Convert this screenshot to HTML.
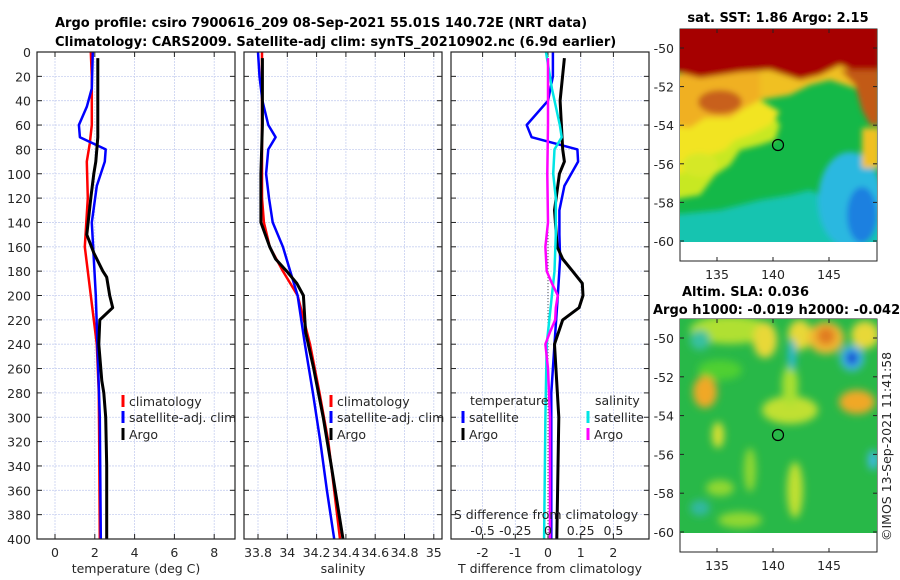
<!DOCTYPE html>
<html><head><meta charset="utf-8"><style>
html,body{margin:0;padding:0;background:#fff;}
svg{display:block;font-family:"DejaVu Sans","Liberation Sans",sans-serif;}
.tk{font-size:12.5px;fill:#262626;}
.ttl{font-size:13px;font-weight:bold;fill:#000;}
</style></head><body>
<svg id="fig" width="900" height="580" viewBox="0 0 900 580" xmlns="http://www.w3.org/2000/svg">
<defs>
<filter id="bl" x="-20%" y="-20%" width="140%" height="140%"><feGaussianBlur stdDeviation="4"/></filter>
<filter id="bl2" x="-20%" y="-20%" width="140%" height="140%"><feGaussianBlur stdDeviation="3"/></filter>
<clipPath id="c1"><rect x="680" y="29" width="197" height="213"/></clipPath>
<clipPath id="c2"><rect x="680" y="319" width="197" height="214"/></clipPath>
</defs>
<text class="ttl" x="55" y="27">Argo profile: csiro 7900616_209 08-Sep-2021 55.01S 140.72E (NRT data)</text>
<text class="ttl" x="55" y="46">Climatology: CARS2009. Satellite-adj clim: synTS_20210902.nc (6.9d earlier)</text>

<!-- SST map -->
<g>
<text class="ttl" x="778" y="22" text-anchor="middle">sat. SST: 1.86 Argo: 2.15</text>
<rect x="680" y="29" width="197" height="232" fill="#fff" stroke="#222"/>
<g clip-path="url(#c1)">
<rect x="680" y="29" width="197" height="213" fill="#14b848"/>
<g filter="url(#bl2)">
<rect x="670" y="222" width="220" height="30" fill="#14c8c0"/>
<polygon points="670,215 720,210 760,200 790,195 810,190 830,200 880,200 880,260 670,260" fill="#12c4b0"/>
<ellipse cx="850" cy="200" rx="32" ry="48" fill="#2ab8e0"/>
<ellipse cx="862" cy="215" rx="15" ry="28" fill="#1f80e0"/>
<polygon points="670,200 700,195 715,175 730,165 740,150 760,145 775,140 780,125 770,110 740,100 700,110 670,120" fill="#c8e820"/>
<polygon points="670,175 695,170 710,155 725,150 735,140 750,135 770,125 780,112 760,100 720,95 690,100 670,100" fill="#f2e420"/>
<ellipse cx="700" cy="165" rx="18" ry="12" fill="#d6e828"/>
<polygon points="670,125 690,128 705,118 730,118 745,108 760,100 785,90 800,85 790,75 750,70 700,72 670,75" fill="#f0b020"/>
<polygon points="760,100 790,95 810,85 830,80 860,90 870,110 880,120 880,60 760,60" fill="#f0c020"/>
<ellipse cx="720" cy="102" rx="22" ry="12" fill="#c8601a"/>
<polygon points="670,70 700,78 740,72 770,70 800,80 820,75 840,65 860,75 870,100 875,125 880,125 880,20 670,20" fill="#a60000"/>
<polygon points="840,70 855,85 862,110 870,125 880,125 880,70" fill="#c25a14"/>
<rect x="862" y="128" width="18" height="40" fill="#f0c020"/>
</g>
</g>
<circle cx="778" cy="145" r="5.5" fill="none" stroke="#000" stroke-width="1.2"/>
</g>

<!-- SLA map -->
<g>
<text class="ttl" x="682" y="296">Altim. SLA: 0.036</text>
<text class="ttl" x="653" y="314">Argo h1000: -0.019 h2000: -0.042</text>
<rect x="680" y="319" width="197" height="233" fill="#fff" stroke="#222"/>
<g clip-path="url(#c2)">
<rect x="680" y="319" width="197" height="214" fill="#28b848"/>
<g filter="url(#bl)">
<ellipse cx="730" cy="330" rx="40" ry="14" fill="#b0e030"/>
<ellipse cx="700" cy="340" rx="10" ry="10" fill="#38c0a0"/>
<ellipse cx="720" cy="370" rx="22" ry="10" fill="#50d030"/>
<ellipse cx="790" cy="410" rx="28" ry="14" fill="#c0e030"/>
<ellipse cx="790" cy="385" rx="8" ry="20" fill="#a8e030"/>
<ellipse cx="765" cy="340" rx="12" ry="18" fill="#e8d838"/>
<ellipse cx="800" cy="335" rx="12" ry="15" fill="#e8d838"/>
<ellipse cx="826" cy="338" rx="18" ry="16" fill="#f0b830"/>
<ellipse cx="826" cy="336" rx="9" ry="9" fill="#e07a20"/>
<ellipse cx="865" cy="335" rx="14" ry="14" fill="#e8d838"/>
<ellipse cx="792" cy="355" rx="4" ry="16" fill="#2ab8d8"/>
<ellipse cx="852" cy="358" rx="12" ry="13" fill="#40b8e8"/>
<ellipse cx="852" cy="358" rx="6" ry="7" fill="#1040d0"/>
<ellipse cx="705" cy="392" rx="12" ry="16" fill="#f0a828"/>
<ellipse cx="857" cy="402" rx="18" ry="12" fill="#f0a828"/>
<ellipse cx="718" cy="435" rx="6" ry="13" fill="#d8e030"/>
<ellipse cx="795" cy="490" rx="8" ry="28" fill="#c0e030"/>
<ellipse cx="750" cy="470" rx="6" ry="22" fill="#90d830"/>
<ellipse cx="720" cy="488" rx="14" ry="8" fill="#90d830"/>
<ellipse cx="700" cy="508" rx="10" ry="8" fill="#30b8a0"/>
<ellipse cx="740" cy="520" rx="22" ry="8" fill="#90d830"/>
<ellipse cx="873" cy="460" rx="5" ry="10" fill="#40b8e8"/>
</g>
</g>
<circle cx="778" cy="435" r="5.5" fill="none" stroke="#000" stroke-width="1.2"/>
<text class="tk" transform="translate(891,541) rotate(-90)">©IMOS 13-Sep-2021 11:41:58</text>
</g>
<g id="mapaxes"></g>
<g id="plots"></g>
</svg>
<script>
// ---------- data ----------
const depthTicks = [0,20,40,60,80,100,120,140,160,180,200,220,240,260,280,300,320,340,360,380,400];
const tTicks = [0,2,4,6,8];
const sTicks = [33.8,34,34.2,34.4,34.6,34.8,35];
const sTickLabels = ["33.8","34","34.2","34.4","34.6","34.8","35"];
const dTTicks = [-2,-1,0,1,2];
const dSTicks = [-0.5,-0.25,0,0.25,0.5];

const climTDepth = [0,20,60,75,90,120,160,200,240,280,320,400];
const climT      = [1.8,1.85,1.85,1.75,1.6,1.65,1.5,1.8,2.1,2.2,2.22,2.25];
const satTDepth  = [0,30,45,60,70,80,90,110,140,200,300,400];
const satT       = [1.9,1.85,1.6,1.2,1.25,2.55,2.5,2.1,1.85,2.05,2.25,2.3];
const argoTDepth = [5,70,90,100,120,150,165,180,185,200,210,220,240,270,280,300,340,400];
const argoT      = [2.15,2.15,2.05,1.95,1.8,1.6,1.95,2.4,2.6,2.75,2.9,2.25,2.2,2.35,2.45,2.55,2.6,2.6];

const climSDepth = [0,120,140,160,180,200,240,280,320,360,400];
const climS      = [33.827,33.827,33.84,33.88,33.97,34.07,34.155,34.22,34.28,34.32,34.36];
const satSDepth  = [0,20,40,60,70,80,100,120,140,160,180,200,240,280,320,360,400];
const satS       = [33.8,33.81,33.83,33.87,33.92,33.87,33.855,33.875,33.9,33.97,34.02,34.07,34.12,34.175,34.225,34.27,34.32];
const argoSDepth = [5,60,100,140,145,160,170,180,190,200,230,260,300,340,400];
const argoS      = [33.83,33.83,33.82,33.82,33.835,33.88,33.92,33.995,34.065,34.11,34.125,34.18,34.245,34.3,34.38];

const dTSatDepth = [0,20,40,60,70,80,90,110,130,150,170,200,240,280,400];
const dTSat      = [0.15,0.15,0,-0.65,-0.5,0.9,0.92,0.5,0.35,0.35,0.37,0.3,0.2,0.1,0.1];
const dTArgoDepth= [5,40,80,90,100,130,160,170,180,190,200,210,220,240,300,400];
const dTArgo     = [0.5,0.37,0.45,0.5,0.35,0.2,0.28,0.45,0.75,1.05,1.07,0.95,0.45,0.2,0.33,0.27];
const dSSatDepth = [0,30,60,70,80,100,120,150,180,200,240,300,400];
const dSSat      = [-0.015,0.03,0.09,0.105,0.05,0.04,0.06,0.06,0.05,0.03,-0.01,-0.02,-0.03];
const dSArgoDepth= [5,60,100,140,160,180,190,200,210,220,230,240,260,300,400];
const dSArgo     = [0,0,-0.005,0,-0.02,-0.01,0.03,0.075,0.06,0.055,0.015,-0.02,0,0.015,0.015];

const mapLatTicks = [-50,-52,-54,-56,-58,-60];
const mapLonTicks = [135,140,145];

// ---------- helpers ----------
const NS = "http://www.w3.org/2000/svg";
const plots = document.getElementById('plots');
const mapaxes = document.getElementById('mapaxes');
function mk(tag, attrs, parent){ const e=document.createElementNS(NS,tag); for(const k in attrs) e.setAttribute(k,attrs[k]); (parent||plots).appendChild(e); return e; }
const Y0=52, Y1=539;
const yD = d => Y0 + d*(Y1-Y0)/400;

function panel(name, x0, x1, xs, xticks, xlabels, xtitle){
  const g = mk('g',{});
  
  
  mk('rect',{x:x0,y:Y0,width:x1-x0,height:Y1-Y0,fill:'#fff'},g);
  xticks.forEach(v=>{ mk('line',{x1:xs(v),x2:xs(v),y1:Y0,y2:Y1,stroke:'#c8d0f0','stroke-width':0.8,'stroke-dasharray':'2,1'},g); });
  depthTicks.forEach(d=>{ mk('line',{x1:x0,x2:x1,y1:yD(d),y2:yD(d),stroke:'#c8d0f0','stroke-width':0.8,'stroke-dasharray':'2,1'},g); });
  depthTicks.forEach(d=>{ mk('line',{x1:x0,x2:x0+5,y1:yD(d),y2:yD(d),stroke:'#222'},g); mk('line',{x1:x1-5,x2:x1,y1:yD(d),y2:yD(d),stroke:'#222'},g); });
  xticks.forEach((v,i)=>{ mk('line',{x1:xs(v),x2:xs(v),y1:Y1-5,y2:Y1,stroke:'#222'},g); mk('line',{x1:xs(v),x2:xs(v),y1:Y0,y2:Y0+5,stroke:'#222'},g);
    const t=mk('text',{x:xs(v),y:Y1+18,'text-anchor':'middle',class:'tk'},g); t.textContent=xlabels[i];
      });
  const tt=mk('text',{x:(x0+x1)/2,y:Y1+34,'text-anchor':'middle',class:'tk'},g); tt.textContent=xtitle;
   
  return g;
}
function series(g, name, depths, vals, xs, color, w){
  const pts = depths.map((d,i)=> xs(vals[i]).toFixed(1)+','+yD(d).toFixed(1)).join(' ');
  const p = mk('polyline',{points:pts,fill:'none',stroke:color,'stroke-width':w,'stroke-linejoin':'round'},g);
  
  
}
function frame(g,x0,x1){ mk('rect',{x:x0,y:Y0,width:x1-x0,height:Y1-Y0,fill:'none',stroke:'#222','stroke-width':1.2},g); }
function legend(g, x, y, label, color, name){
  mk('rect',{x:x-1.5,y:y-6,width:3,height:12,fill:color},g);
  const t=mk('text',{x:x+6,y:y+5,class:'tk'},g); t.textContent=label;
   
}

// y tick labels (panel 1)
depthTicks.forEach(d=>{ const t=mk('text',{x:31,y:yD(d)+5,'text-anchor':'end',class:'tk'}); t.textContent=d;
    });

// Panel 1 temperature
const xT = v => 55 + v*19.9;
const g1 = panel('temperature-panel',37,235,xT,tTicks,tTicks.map(String),'temperature (deg C)');
series(g1,'temp-climatology-line',climTDepth,climT,xT,'#ff0000',2.5);
series(g1,'temp-satellite-line',satTDepth,satT,xT,'#0000ff',2.5);
series(g1,'temp-argo-line',argoTDepth,argoT,xT,'#000',3);
frame(g1,37,235);
legend(g1,123,401,'climatology','#ff0000','legend-climatology');
legend(g1,123,417,'satellite-adj. clim','#0000ff','legend-satellite-adj');
legend(g1,123,434,'Argo','#000','legend-argo');

// Panel 2 salinity
const xS = v => 258 + (v-33.8)*146.5;
const g2 = panel('salinity-panel',244,442,xS,sTicks,sTickLabels,'salinity');
series(g2,'sal-climatology-line',climSDepth,climS,xS,'#ff0000',2.5);
series(g2,'sal-satellite-line',satSDepth,satS,xS,'#0000ff',2.5);
series(g2,'sal-argo-line',argoSDepth,argoS,xS,'#000',3);
frame(g2,244,442);
legend(g2,331,401,'climatology','#ff0000','legend-s-climatology');
legend(g2,331,417,'satellite-adj. clim','#0000ff','legend-s-satellite-adj');
legend(g2,331,434,'Argo','#000','legend-s-argo');

// Panel 3 differences
const xDT = v => 548 + v*32.7;
const xDS = v => 548 + v*130.8;
const g3 = panel('difference-panel',451,649,xDT,dTTicks,dTTicks.map(String),'T difference from climatology');
mk('line',{x1:xDT(0),x2:xDT(0),y1:Y0,y2:Y1,stroke:'#555','stroke-width':1,'stroke-dasharray':'1,2'},g3);
series(g3,'dt-satellite-line',dTSatDepth,dTSat,xDT,'#0000ff',2.5);
series(g3,'dt-argo-line',dTArgoDepth,dTArgo,xDT,'#000',3);
series(g3,'ds-satellite-line',dSSatDepth,dSSat,xDS,'#00e5e5',2.5);
series(g3,'ds-argo-line',dSArgoDepth,dSArgo,xDS,'#ff00ff',2.5);
frame(g3,451,649);
dSTicks.forEach(v=>{ const t=mk('text',{x:xDS(v),y:535,'text-anchor':'middle',class:'tk'},g3); t.textContent=String(v);
    });
{ const t=mk('text',{x:546,y:519,'text-anchor':'middle',class:'tk'},g3); t.textContent='S difference from climatology';
    }
{ const t=mk('text',{x:470,y:405,class:'tk'},g3); t.textContent='temperature';
    }
{ const t=mk('text',{x:595,y:405,class:'tk'},g3); t.textContent='salinity';
    }
legend(g3,463,417,'satellite','#0000ff','legend-dt-satellite');
legend(g3,463,434,'Argo','#000','legend-dt-argo');
legend(g3,588,417,'satellite','#00e5e5','legend-ds-satellite');
legend(g3,588,434,'Argo','#ff00ff','legend-ds-argo');

// Map axes
function mapAxes(name, top, latY0, latScale, bottom){
  const lonX = v => 773 + (v-140)*11.2;
  mapLatTicks.forEach(v=>{ const y = latY0 + (-50 - v)*latScale;
    mk('line',{x1:680,x2:684,y1:y,y2:y,stroke:'#222'},mapaxes); mk('line',{x1:873,x2:877,y1:y,y2:y,stroke:'#222'},mapaxes);
    const t=mk('text',{x:674,y:y+5,'text-anchor':'end',class:'tk'},mapaxes); t.textContent=v;
      });
  mapLonTicks.forEach(v=>{ const x=lonX(v);
    mk('line',{x1:x,x2:x,y1:bottom-4,y2:bottom,stroke:'#222'},mapaxes); mk('line',{x1:x,x2:x,y1:top,y2:top+4,stroke:'#222'},mapaxes);
    const t=mk('text',{x:x,y:bottom+18,'text-anchor':'middle',class:'tk'},mapaxes); t.textContent=v;
      });
}
mapAxes('sst-map',29,48,19.3,261);
mapAxes('sla-map',319,338,19.4,552);
</script>
</body></html>
